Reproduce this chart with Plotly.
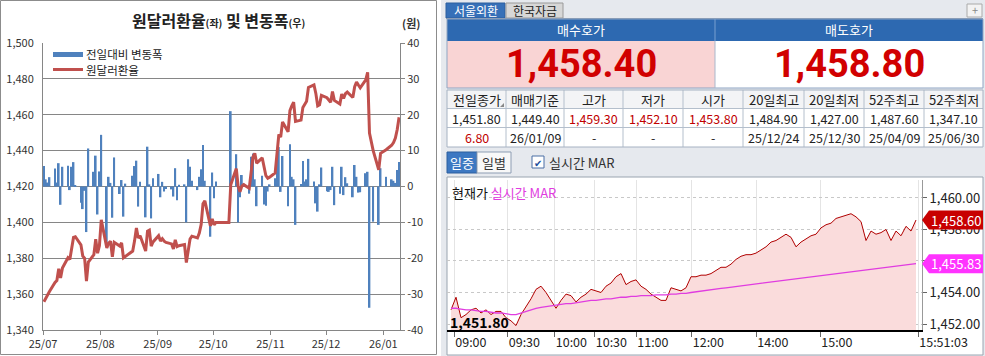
import pandas as pd
import plotly.graph_objects as go

W, H = 985, 356
FONT = "Noto Sans CJK KR, Noto Sans, sans-serif"
BIGFONT = "Roboto, Noto Sans, sans-serif"

# ---------------- left chart data ----------------
month_ticks = ["2025-07-01", "2025-08-01", "2025-09-01", "2025-10-01",
               "2025-11-01", "2025-12-01", "2026-01-01"]
month_labels = ["25/07", "25/08", "25/09", "25/10", "25/11", "25/12", "26/01"]
closed_days = ["2025-08-15", "2025-12-25", "2025-12-31", "2026-01-01"]

rate_jul = [1355.8, 1357.8, 1358.9, 1361.5, 1366.5, 1367.6, 1374.1, 1369.0, 1374.5, 1380.3,
            1379.3, 1384.8, 1391.6, 1392.0, 1387.5, 1381.2, 1380.0, 1367.3, 1377.9, 1382.0,
            1390.6, 1382.8, 1387.0]
rate_aug = [1401.4, 1385.8, 1388.5, 1389.5, 1380.8, 1388.9, 1386.8, 1388.6, 1380.2, 1381.0,
            1384.0, 1389.7, 1396.9, 1391.3, 1392.6, 1384.0, 1395.1, 1395.7, 1386.8, 1389.1]
rate_sep = [1392.6, 1389.6, 1390.9, 1389.5, 1388.8, 1388.0, 1385.2, 1390.3, 1386.5, 1387.0,
            1387.6, 1377.6, 1385.2, 1390.7, 1392.3, 1391.3, 1394.0, 1398.8, 1410.4, 1412.0,
            1398.0, 1401.9]
rate_oct = [1398.6, 1400.0, 1400.0, 1400.0, 1400.0, 1400.0, 1400.0, 1421.0, 1430.0, 1420.0,
            1417.0, 1420.2, 1421.0, 1419.0, 1427.3, 1436.5, 1438.5, 1433.0, 1436.0, 1431.0,
            1426.0, 1424.6, 1425.2]
rate_nov = [1427.5, 1438.0, 1449.0, 1447.5, 1456.0, 1450.5, 1462.3, 1465.0, 1467.0, 1456.3,
            1457.0, 1464.1, 1465.5, 1467.5, 1475.2, 1476.6, 1471.9, 1464.9, 1465.5, 1470.8]
rate_dec = [1469.5, 1468.0, 1467.0, 1473.0, 1468.0, 1466.0, 1471.5, 1469.1, 1471.7, 1472.6,
            1469.6, 1475.6, 1478.3, 1476.6, 1475.0, 1479.5, 1483.6, 1449.8, 1440.0, 1429.3,
            1438.5]
rate_jan = [1440.5, 1443.0, 1444.5, 1447.0, 1451.8, 1458.6]

chg_jul = [5.7, 2.0, 1.1, 2.6, 5.0, 1.1, 6.5, -5.1, 5.5, 5.8, -1.0, 5.5, 6.8, 0.4, -4.5,
           -6.3, -1.2, -12.7, 10.6, 4.1, 8.6, -7.8, 4.2]
chg_aug = [14.4, -15.6, 2.7, 1.0, -8.7, 8.1, -2.1, 1.8, -8.4, 0.8, 3.0, 5.7, 7.2, -5.6, 1.3,
           -8.6, 11.1, 0.6, -8.9, 2.3]
chg_sep = [3.5, -3.0, 1.3, -1.4, -0.7, -0.8, -2.8, 5.1, -3.8, 0.5, 0.6, -10.0, 7.6, 5.5, 1.6,
           -1.0, 2.7, 4.8, 11.6, 1.6, -14.0, 3.9]
chg_oct = [-3.3, 1.4, 0.0, 0.0, 0.0, 0.0, 0.0, 21.0, 9.0, -10.0, -3.0, 3.2, 0.8, -2.0, 8.3,
           9.2, 2.0, -5.5, 3.0, -5.0, -5.4, -1.4, 0.6]
chg_nov = [2.3, 10.5, 11.0, -1.5, 8.5, -5.5, 11.8, 2.7, 2.0, -10.7, 0.7, 7.1, 1.4, 2.0, 7.7,
           1.4, -4.7, -7.0, 0.6, 5.3]
chg_dec = [-1.3, -1.5, -1.0, 5.5, -5.2, -2.0, 5.5, -2.4, 2.6, 0.9, -3.0, 6.0, 2.7, -1.7, -1.6,
           3.7, 4.1, -33.8, -9.8, -10.7, 5.1]
chg_jan = [2.7, 2.0, 1.6, 1.0, 4.6, 6.8]

rate = rate_jul + rate_aug + rate_sep + rate_oct + rate_nov + rate_dec + rate_jan
change = chg_jul + chg_aug + chg_sep + chg_oct + chg_nov + chg_dec + chg_jan
dates = [d for d in pd.bdate_range("2025-07-01", "2026-01-09")
         if d.strftime("%Y-%m-%d") not in closed_days]
assert len(dates) == len(rate) == len(change)

left_ticks = [1340, 1360, 1380, 1400, 1420, 1440, 1460, 1480, 1500]
right_ticks = [-40, -30, -20, -10, 0, 10, 20, 30, 40]
right_labels = ["-40", "-30", "-20", "-10", "0", "10", "20", "30", "40"]

# ---------------- right panel data ----------------
bid_price = "1,458.40"
ask_price = "1,458.80"
table_head = ["전일종가", "매매기준", "고가", "저가", "시가", "20일최고", "20일최저", "52주최고", "52주최저"]
table_row1 = ["1,451.80", "1,449.40", "1,459.30", "1,452.10", "1,453.80", "1,484.90", "1,427.00", "1,487.60", "1,347.10"]
table_row2 = ["6.80", "26/01/09", "-", "-", "-", "25/12/24", "25/12/30", "25/04/09", "25/06/30"]
row1_red = [False, False, True, True, True, False, False, False, False]
row2_red = [True, False, False, False, False, False, False, False, False]
prev_close = 1451.80

intraday_price = [
    1452.9, 1453.7, 1452.4, 1452.6, 1452.9, 1453.0, 1452.7, 1452.9, 1452.6, 1452.8,
    1452.8, 1452.4, 1452.2, 1451.9, 1452.6, 1453.1, 1453.6, 1454.2, 1454.4, 1454.0,
    1453.5, 1453.0, 1453.5, 1453.9, 1453.8, 1453.4, 1453.7, 1453.9, 1454.2, 1454.1,
    1454.0, 1454.4, 1454.6, 1455.0, 1455.2, 1454.5, 1454.7, 1454.8, 1454.4, 1454.2,
    1453.9, 1453.7, 1453.5, 1453.5, 1454.3, 1454.2, 1454.1, 1454.3, 1455.0, 1455.0,
    1455.1, 1455.1, 1455.2, 1455.4, 1455.6, 1455.6, 1455.8, 1456.1, 1456.3, 1456.4,
    1456.4, 1456.5, 1456.7, 1456.9, 1457.2, 1457.3, 1457.5, 1457.7, 1457.5, 1456.9,
    1457.2, 1457.4, 1457.6, 1457.7, 1458.1, 1458.3, 1458.4, 1458.7, 1458.8, 1458.9,
    1459.0, 1458.8, 1458.5, 1457.3, 1457.9, 1457.7, 1457.8, 1458.0, 1457.3, 1457.9,
    1457.6, 1458.2, 1457.9, 1458.6]
intraday_mar = [
    1453.0, 1453.0, 1452.95, 1452.9, 1452.9, 1452.85, 1452.8, 1452.8, 1452.75, 1452.7,
    1452.7, 1452.65, 1452.6, 1452.6, 1452.7, 1452.8, 1452.9, 1453.0, 1453.05, 1453.1,
    1453.15, 1453.2, 1453.25, 1453.3, 1453.3, 1453.35, 1453.4, 1453.45, 1453.5, 1453.5,
    1453.55, 1453.6, 1453.6, 1453.65, 1453.7, 1453.7, 1453.75, 1453.75, 1453.8, 1453.8,
    1453.8, 1453.85, 1453.85, 1453.85, 1453.9, 1453.9, 1453.95, 1453.95, 1454.0, 1454.05,
    1454.1, 1454.15, 1454.19, 1454.23, 1454.26, 1454.3, 1454.34, 1454.38, 1454.42, 1454.46,
    1454.5, 1454.54, 1454.58, 1454.62, 1454.66, 1454.7, 1454.74, 1454.78, 1454.82, 1454.86,
    1454.9, 1454.94, 1454.98, 1455.02, 1455.06, 1455.1, 1455.14, 1455.18, 1455.22, 1455.26,
    1455.3, 1455.34, 1455.38, 1455.42, 1455.46, 1455.5, 1455.54, 1455.58, 1455.62, 1455.66,
    1455.7, 1455.75, 1455.79, 1455.83]
time_tick_pos = [0.6, 11.3, 20.7, 28.7, 37, 48.1, 61, 73.8, 93.4]
time_tick_labels = ["09:00", "09:30", "10:00", "10:30", "11:00", "12:00", "14:00", "15:00", "15:51:03"]
price_ticks = [1452, 1454, 1456, 1458, 1460]
assert len(intraday_price) == len(intraday_mar)

# ---------------- helpers ----------------
def X(p):
    return p / W


def Y(p):
    return 1 - p / H


shapes, annots = [], []


def rect(x0, y0, x1, y1, fill, line=None, lw=1, layer="below"):
    shapes.append(dict(type="rect", xref="paper", yref="paper",
                       x0=X(x0), x1=X(x1), y0=Y(y1), y1=Y(y0),
                       fillcolor=fill, layer=layer,
                       line=dict(color=line if line else "rgba(0,0,0,0)", width=lw if line else 0)))


def seg(x0, y0, x1, y1, color, lw=1, layer="below"):
    shapes.append(dict(type="line", xref="paper", yref="paper",
                       x0=X(x0), x1=X(x1), y0=Y(y0), y1=Y(y1), layer=layer,
                       line=dict(color=color, width=lw)))


def text(x, y, s, size=12, color="#222", anchor="center", family=FONT):
    annots.append(dict(xref="paper", yref="paper", x=X(x), y=Y(y), text=s, showarrow=False,
                       xanchor=anchor, yanchor="middle", borderpad=0,
                       font=dict(size=size, color=color, family=family)))


fig = go.Figure()

# ---------------- left chart ----------------
DAY = 86400000
fig.add_trace(go.Bar(x=dates, y=change, xaxis="x", yaxis="y", width=DAY * 0.95,
                     xperiod=DAY, xperiodalignment="middle",
                     marker=dict(color="#4F81BD", line=dict(width=0)), name="전일대비 변동폭"))
fig.add_trace(go.Scatter(x=dates, y=rate, xaxis="x", yaxis="y2", mode="lines",
                         xperiod=DAY, xperiodalignment="middle",
                         line=dict(color="#C0504D", width=3), name="원달러환율"))

rect(0.5, 0.5, 436.5, 354.5, "rgba(0,0,0,0)", line="#8c8c8c")
text(218, 20, "<b>원달러환율<span style='font-size:10px'>(좌)</span> 및 변동폭<span style='font-size:10px'>(우)</span></b>",
     size=16, color="#222")
text(411, 23, "<b>(원)</b>", size=11, color="#333")
# legend
rect(53, 52, 83, 57, "#4F81BD", layer="above")
text(85, 54.5, "전일대비 변동폭", size=11.5, color="#222", anchor="left")
seg(53, 69.5, 83, 69.5, "#C0504D", lw=3, layer="above")
text(85, 69.5, "원달러환율", size=11.5, color="#222", anchor="left")

# ---------------- right panel ----------------
rect(441, 0, 985, 356, "#e6e9ee")
# tabs
rect(446, 3, 505, 18, "#3670b8", line="#2c5f9e")
text(475.5, 10.5, "서울외환", 12, "white")
rect(506, 3, 563, 18, "#d7d7d7", line="#9a9a9a")
text(534.5, 10.5, "한국자금", 12, "#222")
seg(446, 18.5, 983, 18.5, "#8496ad")
rect(967, 4, 982, 17, "#f3f3f3", line="#aaaaaa")
text(974.5, 10.5, "+", 11, "#888")
# quote box
rect(447, 19, 983, 41, "#2d69b1")
rect(447, 41, 715, 88, "#f9d4d4")
rect(715, 41, 983, 88, "#ffffff")
rect(447, 19, 983, 88, "rgba(0,0,0,0)", line="#8fa5c3")
seg(715, 19, 715, 41, "#79a0d0")
seg(715, 41, 715, 88, "#a9b8cc")
text(581, 30, "매수호가", 13, "white")
text(849, 30, "매도호가", 13, "white")
text(581, 64, "<b>" + bid_price + "</b>", 38, "#d10000", family=BIGFONT)
text(849, 64, "<b>" + ask_price + "</b>", 38, "#d10000", family=BIGFONT)
# table
col_edges = [447, 506, 564, 623, 683, 743, 804, 864, 924, 983]
rect(447, 90, 983, 147, "#ffffff")
rect(447, 90, 983, 108.5, "#f3f4f6")
for yy in (108.5, 127.5):
    seg(447, yy, 983, yy, "#b4bfcc")
for xx in col_edges[1:-1]:
    seg(xx, 90, xx, 147, "#b4bfcc")
rect(447, 90, 983, 147, "rgba(0,0,0,0)", line="#a6b2c2")
shapes.append(dict(type="path", xref="paper", yref="paper", layer="below",
                   path=f"M {X(504)},{Y(103)} L {X(504)},{Y(107)} L {X(500)},{Y(107)} Z",
                   fillcolor="#888", line=dict(width=0)))
for i in range(len(table_head)):
    cx = (col_edges[i] + col_edges[i + 1]) / 2
    text(cx, 99.5, table_head[i], 13, "#222")
    text(cx, 118.5, table_row1[i], 12.5, "#c00000" if row1_red[i] else "#222")
    text(cx, 137.5, table_row2[i], 12.5, "#c00000" if row2_red[i] else "#222")
# buttons
rect(447, 152, 477, 173, "#3d78c2", line="#2d5e9e")
text(462, 162.5, "일중", 13, "white")
rect(477, 152, 511, 173, "#f8f8f8", line="#8d9db3")
text(494, 162.5, "일별", 13, "#333")
rect(532, 156, 544, 168, "#ffffff", line="#4a6fa5")
text(538, 162, "✔", 10, "#1d4f9c")
text(548, 162.5, "실시간 MAR", 13, "#333", anchor="left")
# intraday box
rect(447, 177, 983, 355, "#ffffff", line="#9aa4b0")
text(451, 192, "현재가 <span style='color:#e03ce0'>실시간 MAR</span>", 13, "#111", anchor="left")
text(449, 322, "<b>" + f"{prev_close:,.2f}" + "</b>", 14, "#000", anchor="left")

fig.add_trace(go.Scatter(x=list(range(len(intraday_price))), y=intraday_price, xaxis="x2", yaxis="y3",
                         mode="lines", fill="tozeroy", fillcolor="#fadcdc",
                         line=dict(color="#b00000", width=1)))
fig.add_trace(go.Scatter(x=list(range(len(intraday_mar))), y=intraday_mar, xaxis="x2", yaxis="y3",
                         mode="lines", line=dict(color="#e03ce0", width=1.3)))

# price tags
y3_range = [1451.62, 1461.14]
half = 9.5 * (y3_range[1] - y3_range[0]) / 150.0
for val, col in ((intraday_price[-1], "#c80000"), (intraday_mar[-1], "#ff33ff")):
    shapes.append(dict(type="path", xref="paper", yref="y3", layer="above",
                       path=(f"M {X(922)},{val} L {X(929)},{val + half} L {X(983)},{val + half} "
                             f"L {X(983)},{val - half} L {X(929)},{val - half} Z"),
                       fillcolor=col, line=dict(width=0)))
    annots.append(dict(xref="paper", yref="y3", x=X(956), y=val, text=f"{val:,.2f}", showarrow=False,
                       xanchor="center", yanchor="middle", font=dict(size=13, color="white", family=FONT)))

fig.update_layout(
    width=W, height=H, margin=dict(l=0, r=0, t=0, b=0, autoexpand=False),
    paper_bgcolor="white", plot_bgcolor="rgba(0,0,0,0)", showlegend=False,
    font=dict(family=FONT, size=11, color="#333"),
    xaxis=dict(domain=[X(43), X(400)], anchor="y", type="date", automargin=False,
               range=["2025-07-01", "2026-01-10"], tickvals=month_ticks, ticktext=month_labels,
               ticks="outside", ticklen=4, tickcolor="#868686", showline=True, linecolor="#868686",
               showgrid=False, zeroline=False, tickangle=0, tickfont=dict(size=11, color="#333")),
    yaxis=dict(domain=[Y(330), Y(43)], anchor="x", side="right", range=[-40, 40], automargin=False,
               tickvals=right_ticks, ticktext=right_labels, ticks="outside", ticklen=4,
               tickcolor="#868686", showline=True, linecolor="#868686", showgrid=True,
               gridcolor="#868686", zeroline=False, tickfont=dict(size=11, color="#333")),
    yaxis2=dict(overlaying="y", side="left", anchor="x", range=[1340, 1500], tickvals=left_ticks,
                automargin=False, tickformat=",d", showgrid=False, zeroline=False, showline=True,
                linecolor="#868686", ticks="", ticklabelstandoff=6, tickfont=dict(size=11, color="#333")),
    xaxis2=dict(domain=[X(447), X(922)], anchor="y3", range=[-0.8, 94.2], automargin=False,
                tickvals=time_tick_pos, ticktext=time_tick_labels, ticklabelposition="outside right",
                tickangle=0, ticks="outside", ticklen=5, tickcolor="#666", showline=True,
                linecolor="#000", linewidth=1.5, showgrid=True, gridcolor="#e4e4e4", zeroline=False,
                tickfont=dict(size=12.5, color="#222")),
    yaxis3=dict(domain=[Y(330), Y(180)], anchor="x2", side="right", range=y3_range, automargin=False,
                tickvals=price_ticks, ticktext=[f"{v:,.2f}" for v in price_ticks],
                ticks="outside", ticklen=4, tickcolor="#666", showline=True, linecolor="#999",
                showgrid=True, gridcolor="#c8c8c8", griddash="dot", zeroline=False,
                tickfont=dict(size=13, color="#222")),
    shapes=shapes, annotations=annots,
)

fig.write_html("out.html", config={"displayModeBar": False},
               post_script="document.body.style.margin='0';document.body.style.overflow='hidden';")
